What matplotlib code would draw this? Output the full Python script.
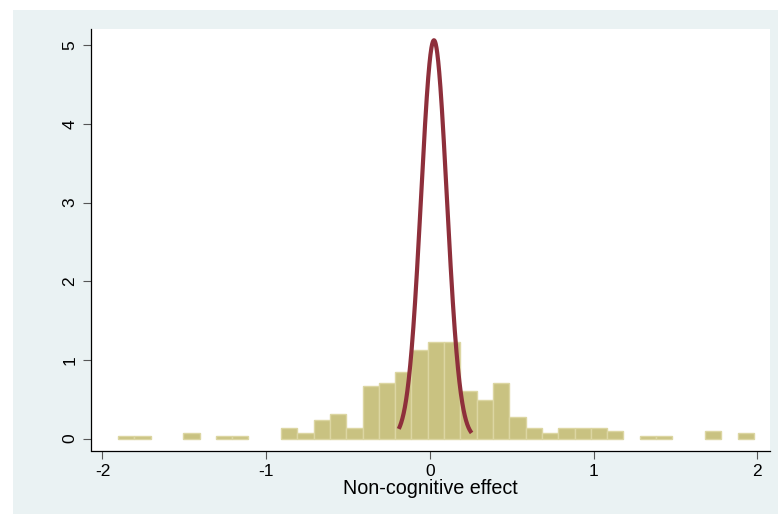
import numpy as np
import matplotlib
matplotlib.use("Agg")
import matplotlib.pyplot as plt
from matplotlib.patches import Rectangle

# histogram: 39 bins starting at -1.905, density values
bin_start = -1.905
bin_width = 0.0996
density = [0.034, 0.034, 0.0, 0.0, 0.068, 0.0, 0.034, 0.034, 0.0, 0.0,
           0.137, 0.068, 0.24, 0.31, 0.137, 0.665, 0.70, 0.84, 1.13, 1.23,
           1.23, 0.60, 0.49, 0.70, 0.275, 0.137, 0.068, 0.137, 0.137, 0.137,
           0.10, 0.0, 0.034, 0.034, 0.0, 0.0, 0.10, 0.0, 0.068]

# normal overlay
norm_mean = 0.025
norm_sd = 0.0788
curve_range = (-0.19, 0.255)

x_ticks = [-2, -1, 0, 1, 2]
y_ticks = [0, 1, 2, 3, 4, 5]
x_label = "Non-cognitive effect"

plt.rcParams["font.family"] = ["Liberation Sans", "DejaVu Sans"]

fig = plt.figure(figsize=(7.78, 5.14), dpi=100, facecolor="white")
bg = Rectangle((13 / 778, 0), 1, 1 - 10 / 514, transform=fig.transFigure,
               facecolor="#eaf2f3", edgecolor="none", zorder=-10)
fig.patches.append(bg)
ax = fig.add_axes([90.7 / 778, 1 - 450.5 / 514, (770 - 90.7) / 778, (450.5 - 29) / 514])
ax.set_zorder(1)
ax.set_facecolor("white")

dens = np.array(density)
lefts = bin_start + bin_width * np.arange(len(dens))
keep = dens > 0
ax.bar(lefts[keep], dens[keep], width=bin_width, align="edge",
       color="#c9c281", edgecolor="#dcd6a2", linewidth=1.0, zorder=2)

xs = np.linspace(curve_range[0], curve_range[1], 300)
pdf = np.exp(-0.5 * ((xs - norm_mean) / norm_sd) ** 2) / (norm_sd * np.sqrt(2 * np.pi))
ax.plot(xs, pdf, color="#8e2f3b", lw=3.0, solid_capstyle="butt", zorder=3)

ax.set_xlim(-2.072, 2.078)
ax.set_ylim(-0.152, 5.206)
ax.set_xticks(x_ticks)
ax.set_yticks(y_ticks)
ax.set_xticklabels([str(t) for t in x_ticks], fontsize=12.5)
ax.set_yticklabels([str(t) for t in y_ticks], fontsize=12.5, rotation=90, va="center")
ax.tick_params(axis="both", length=5.5, width=0.8, color="#555555", pad=4)
ax.set_xlabel(x_label, fontsize=14.2, labelpad=0)

for s in ["top", "right"]:
    ax.spines[s].set_visible(False)
for s in ["left", "bottom"]:
    ax.spines[s].set_color("black")
    ax.spines[s].set_linewidth(0.9)

fig.savefig("out.png", dpi=100)
